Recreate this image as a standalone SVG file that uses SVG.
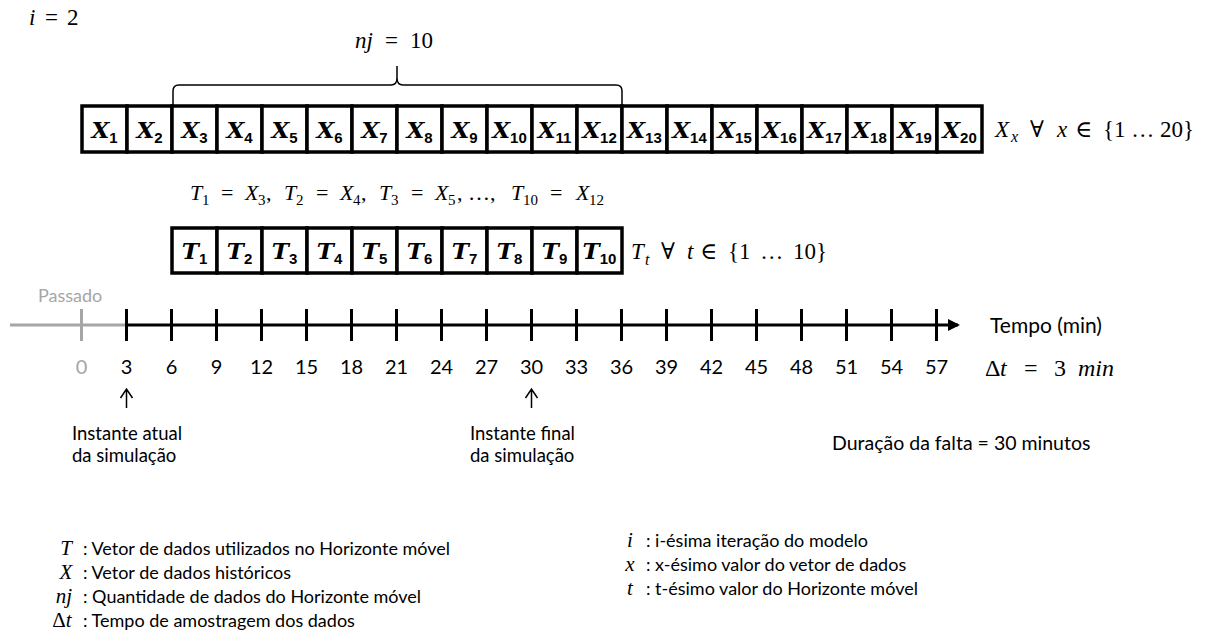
<svg xmlns="http://www.w3.org/2000/svg" width="1213" height="637" viewBox="0 0 1213 637">
<style>
.cell{fill:#fff;stroke:#000;stroke-width:3.5}
.ct{font-family:"DejaVu Serif","Liberation Serif",serif;font-weight:bold;font-style:italic;font-size:23px;text-anchor:middle;fill:#000}
.cs{font-family:"Liberation Sans",sans-serif;font-weight:bold;font-style:normal;font-size:15px}
.m{font-family:"Liberation Serif","DejaVu Serif",serif;fill:#000}
.mi{font-style:italic}
.sub{font-size:15px}
.lab{font-family:Lato,"Liberation Sans",sans-serif;fill:#000}
.num{font-family:Lato,"Liberation Sans",sans-serif;font-size:20px;text-anchor:middle;fill:#000}
.gray{fill:#a6a6a6}
.tick{stroke:#000;stroke-width:3}
.ax{stroke:#000;stroke-width:3;fill:none}
.thin{stroke:#000;stroke-width:1.5;fill:none}
</style>
<defs>
<marker id="ah" markerWidth="12" markerHeight="12" refX="10" refY="6" orient="auto" markerUnits="userSpaceOnUse">
<path d="M0,0 L12,6 L0,12 Z" fill="#000"/>
</marker>
</defs>

<text class="m" y="25" style="font-size:23px"><tspan class="mi" x="29">i</tspan><tspan x="45">=</tspan><tspan x="67">2</tspan></text>
<text class="m" y="48" style="font-size:23px"><tspan class="mi" x="355">nj</tspan><tspan x="385">=</tspan><tspan x="410">10</tspan></text>

<g id="connectors">
<path class="thin" d="M173,106 V91 Q173,85 179,85 H391 Q397,85 397,78 V66 M397,78 Q397,85 403,85 H616 Q622,85 622,91 V106"/>
<path class="ax" style="stroke:#a6a6a6" d="M10,325 H126"/>
<path class="ax" d="M126,325 H958" marker-end="url(#ah)"/>
<path class="thin" d="M126.5,408 V389 M120.5,398 L126.5,389 L132.5,398"/>
<path class="thin" d="M531.5,408 V389 M525.5,398 L531.5,389 L537.5,398"/>
</g>

<g id="xvector">
<g id="x1"><rect class="cell" x="82" y="106" width="45" height="46"/><text class="ct" x="104.5" y="138">X<tspan class="cs" dy="5">1</tspan></text></g>
<g id="x2"><rect class="cell" x="127" y="106" width="45" height="46"/><text class="ct" x="149.5" y="138">X<tspan class="cs" dy="5">2</tspan></text></g>
<g id="x3"><rect class="cell" x="172" y="106" width="45" height="46"/><text class="ct" x="194.5" y="138">X<tspan class="cs" dy="5">3</tspan></text></g>
<g id="x4"><rect class="cell" x="217" y="106" width="45" height="46"/><text class="ct" x="239.5" y="138">X<tspan class="cs" dy="5">4</tspan></text></g>
<g id="x5"><rect class="cell" x="262" y="106" width="45" height="46"/><text class="ct" x="284.5" y="138">X<tspan class="cs" dy="5">5</tspan></text></g>
<g id="x6"><rect class="cell" x="307" y="106" width="45" height="46"/><text class="ct" x="329.5" y="138">X<tspan class="cs" dy="5">6</tspan></text></g>
<g id="x7"><rect class="cell" x="352" y="106" width="45" height="46"/><text class="ct" x="374.5" y="138">X<tspan class="cs" dy="5">7</tspan></text></g>
<g id="x8"><rect class="cell" x="397" y="106" width="45" height="46"/><text class="ct" x="419.5" y="138">X<tspan class="cs" dy="5">8</tspan></text></g>
<g id="x9"><rect class="cell" x="442" y="106" width="45" height="46"/><text class="ct" x="464.5" y="138">X<tspan class="cs" dy="5">9</tspan></text></g>
<g id="x10"><rect class="cell" x="487" y="106" width="45" height="46"/><text class="ct" x="509.5" y="138">X<tspan class="cs" dy="5">10</tspan></text></g>
<g id="x11"><rect class="cell" x="532" y="106" width="45" height="46"/><text class="ct" x="554.5" y="138">X<tspan class="cs" dy="5">11</tspan></text></g>
<g id="x12"><rect class="cell" x="577" y="106" width="45" height="46"/><text class="ct" x="599.5" y="138">X<tspan class="cs" dy="5">12</tspan></text></g>
<g id="x13"><rect class="cell" x="622" y="106" width="45" height="46"/><text class="ct" x="644.5" y="138">X<tspan class="cs" dy="5">13</tspan></text></g>
<g id="x14"><rect class="cell" x="667" y="106" width="45" height="46"/><text class="ct" x="689.5" y="138">X<tspan class="cs" dy="5">14</tspan></text></g>
<g id="x15"><rect class="cell" x="712" y="106" width="45" height="46"/><text class="ct" x="734.5" y="138">X<tspan class="cs" dy="5">15</tspan></text></g>
<g id="x16"><rect class="cell" x="757" y="106" width="45" height="46"/><text class="ct" x="779.5" y="138">X<tspan class="cs" dy="5">16</tspan></text></g>
<g id="x17"><rect class="cell" x="802" y="106" width="45" height="46"/><text class="ct" x="824.5" y="138">X<tspan class="cs" dy="5">17</tspan></text></g>
<g id="x18"><rect class="cell" x="847" y="106" width="45" height="46"/><text class="ct" x="869.5" y="138">X<tspan class="cs" dy="5">18</tspan></text></g>
<g id="x19"><rect class="cell" x="892" y="106" width="45" height="46"/><text class="ct" x="914.5" y="138">X<tspan class="cs" dy="5">19</tspan></text></g>
<g id="x20"><rect class="cell" x="937" y="106" width="45" height="46"/><text class="ct" x="959.5" y="138">X<tspan class="cs" dy="5">20</tspan></text></g>
</g>

<text class="m" style="font-size:23px"><tspan class="mi" x="995" y="137">X</tspan><tspan class="mi" x="1011" y="142" style="font-size:16px">x</tspan><tspan x="1030" y="137">∀</tspan><tspan class="mi" x="1057" y="137">x</tspan><tspan x="1075" y="137">∈</tspan><tspan x="1103" y="137">{1 … 20}</tspan></text>

<text class="m" style="font-size:22px"><tspan class="mi" x="190" y="200">T</tspan><tspan class="sub" x="202" y="205">1</tspan><tspan x="221" y="200">=</tspan><tspan class="mi" x="245" y="200">X</tspan><tspan class="sub" x="258" y="205">3</tspan><tspan x="266" y="200">,</tspan><tspan class="mi" x="284" y="200">T</tspan><tspan class="sub" x="296" y="205">2</tspan><tspan x="316" y="200">=</tspan><tspan class="mi" x="340" y="200">X</tspan><tspan class="sub" x="353" y="205">4</tspan><tspan x="361" y="200">,</tspan><tspan class="mi" x="379" y="200">T</tspan><tspan class="sub" x="391" y="205">3</tspan><tspan x="411" y="200">=</tspan><tspan class="mi" x="435" y="200">X</tspan><tspan class="sub" x="448" y="205">5</tspan><tspan x="457" y="200">, …,</tspan><tspan class="mi" x="511" y="200">T</tspan><tspan class="sub" x="523" y="205">10</tspan><tspan x="550" y="200">=</tspan><tspan class="mi" x="576" y="200">X</tspan><tspan class="sub" x="589" y="205">12</tspan></text>

<g id="tvector">
<g id="t1"><rect class="cell" x="172" y="228" width="45" height="45"/><text class="ct" x="194.5" y="259">T<tspan class="cs" dy="5">1</tspan></text></g>
<g id="t2"><rect class="cell" x="217" y="228" width="45" height="45"/><text class="ct" x="239.5" y="259">T<tspan class="cs" dy="5">2</tspan></text></g>
<g id="t3"><rect class="cell" x="262" y="228" width="45" height="45"/><text class="ct" x="284.5" y="259">T<tspan class="cs" dy="5">3</tspan></text></g>
<g id="t4"><rect class="cell" x="307" y="228" width="45" height="45"/><text class="ct" x="329.5" y="259">T<tspan class="cs" dy="5">4</tspan></text></g>
<g id="t5"><rect class="cell" x="352" y="228" width="45" height="45"/><text class="ct" x="374.5" y="259">T<tspan class="cs" dy="5">5</tspan></text></g>
<g id="t6"><rect class="cell" x="397" y="228" width="45" height="45"/><text class="ct" x="419.5" y="259">T<tspan class="cs" dy="5">6</tspan></text></g>
<g id="t7"><rect class="cell" x="442" y="228" width="45" height="45"/><text class="ct" x="464.5" y="259">T<tspan class="cs" dy="5">7</tspan></text></g>
<g id="t8"><rect class="cell" x="487" y="228" width="45" height="45"/><text class="ct" x="509.5" y="259">T<tspan class="cs" dy="5">8</tspan></text></g>
<g id="t9"><rect class="cell" x="532" y="228" width="45" height="45"/><text class="ct" x="554.5" y="259">T<tspan class="cs" dy="5">9</tspan></text></g>
<g id="t10"><rect class="cell" x="577" y="228" width="45" height="45"/><text class="ct" x="599.5" y="259">T<tspan class="cs" dy="5">10</tspan></text></g>
</g>

<text class="m" style="font-size:23px"><tspan class="mi" x="631" y="259">T</tspan><tspan class="mi" x="645" y="265" style="font-size:16px">t</tspan><tspan x="661" y="259">∀</tspan><tspan class="mi" x="687" y="259">t</tspan><tspan x="700" y="259">∈</tspan><tspan x="728" y="259" style="word-spacing:4px">{1 … 10}</tspan></text>

<g id="timeline">
<text class="lab gray" x="38" y="302" style="font-size:18px">Passado</text>
<line x1="81.5" y1="309" x2="81.5" y2="341" class="tick" style="stroke:#a6a6a6"/>
<line x1="126.5" y1="309" x2="126.5" y2="341" class="tick"/>
<line x1="171.5" y1="309" x2="171.5" y2="341" class="tick"/>
<line x1="216.5" y1="309" x2="216.5" y2="341" class="tick"/>
<line x1="261.5" y1="309" x2="261.5" y2="341" class="tick"/>
<line x1="306.5" y1="309" x2="306.5" y2="341" class="tick"/>
<line x1="351.5" y1="309" x2="351.5" y2="341" class="tick"/>
<line x1="396.5" y1="309" x2="396.5" y2="341" class="tick"/>
<line x1="441.5" y1="309" x2="441.5" y2="341" class="tick"/>
<line x1="486.5" y1="309" x2="486.5" y2="341" class="tick"/>
<line x1="531.5" y1="309" x2="531.5" y2="341" class="tick"/>
<line x1="576.5" y1="309" x2="576.5" y2="341" class="tick"/>
<line x1="621.5" y1="309" x2="621.5" y2="341" class="tick"/>
<line x1="666.5" y1="309" x2="666.5" y2="341" class="tick"/>
<line x1="711.5" y1="309" x2="711.5" y2="341" class="tick"/>
<line x1="756.5" y1="309" x2="756.5" y2="341" class="tick"/>
<line x1="801.5" y1="309" x2="801.5" y2="341" class="tick"/>
<line x1="846.5" y1="309" x2="846.5" y2="341" class="tick"/>
<line x1="891.5" y1="309" x2="891.5" y2="341" class="tick"/>
<line x1="936.5" y1="309" x2="936.5" y2="341" class="tick"/>
<text class="num gray" x="81.5" y="374">0</text>
<text class="num" x="126.5" y="374">3</text>
<text class="num" x="171.5" y="374">6</text>
<text class="num" x="216.5" y="374">9</text>
<text class="num" x="261.5" y="374">12</text>
<text class="num" x="306.5" y="374">15</text>
<text class="num" x="351.5" y="374">18</text>
<text class="num" x="396.5" y="374">21</text>
<text class="num" x="441.5" y="374">24</text>
<text class="num" x="486.5" y="374">27</text>
<text class="num" x="531.5" y="374">30</text>
<text class="num" x="576.5" y="374">33</text>
<text class="num" x="621.5" y="374">36</text>
<text class="num" x="666.5" y="374">39</text>
<text class="num" x="711.5" y="374">42</text>
<text class="num" x="756.5" y="374">45</text>
<text class="num" x="801.5" y="374">48</text>
<text class="num" x="846.5" y="374">51</text>
<text class="num" x="891.5" y="374">54</text>
<text class="num" x="936.5" y="374">57</text>
<text class="lab" x="990" y="333" style="font-size:21px">Tempo (min)</text>
<text class="m" y="376" style="font-size:24px"><tspan x="985">Δ</tspan><tspan class="mi" x="1000">t</tspan><tspan x="1024">=</tspan><tspan x="1054">3</tspan><tspan class="mi" x="1078">min</tspan></text>
</g>

<g id="annotations">
<text class="lab" x="72" y="440" style="font-size:18.5px">Instante atual</text>
<text class="lab" x="72" y="462" style="font-size:18.5px">da simulação</text>
<text class="lab" x="470" y="440" style="font-size:18.5px">Instante final</text>
<text class="lab" x="470" y="462" style="font-size:18.5px">da simulação</text>
<text class="lab" x="832" y="450" style="font-size:19.5px">Duração da falta = 30 minutos</text>
</g>

<g id="legend">
<text class="m mi" x="66" y="555" style="font-size:21px" text-anchor="middle">T</text>
<text class="lab" x="83" y="555" style="font-size:18px">:  Vetor de dados utilizados no Horizonte móvel</text>
<text class="m mi" x="66" y="579" style="font-size:21px" text-anchor="middle">X</text>
<text class="lab" x="83" y="579" style="font-size:18px">:  Vetor de dados históricos</text>
<text class="m mi" x="64" y="603" style="font-size:21px" text-anchor="middle">nj</text>
<text class="lab" x="83" y="603" style="font-size:18px">:  Quantidade de dados do Horizonte móvel</text>
<text class="m" x="62" y="627" style="font-size:21px" text-anchor="middle">Δ<tspan class="mi">t</tspan></text>
<text class="lab" x="83" y="627" style="font-size:18px">:  Tempo de amostragem dos dados</text>
<text class="m mi" x="630" y="547" style="font-size:21px" text-anchor="middle">i</text>
<text class="lab" x="646" y="547" style="font-size:18px">:  i-ésima iteração do modelo</text>
<text class="m mi" x="630" y="571" style="font-size:21px" text-anchor="middle">x</text>
<text class="lab" x="646" y="571" style="font-size:18px">:  x-ésimo valor do vetor de dados</text>
<text class="m mi" x="630" y="595" style="font-size:21px" text-anchor="middle">t</text>
<text class="lab" x="646" y="595" style="font-size:18px">:  t-ésimo valor do Horizonte móvel</text>
</g>
</svg>
